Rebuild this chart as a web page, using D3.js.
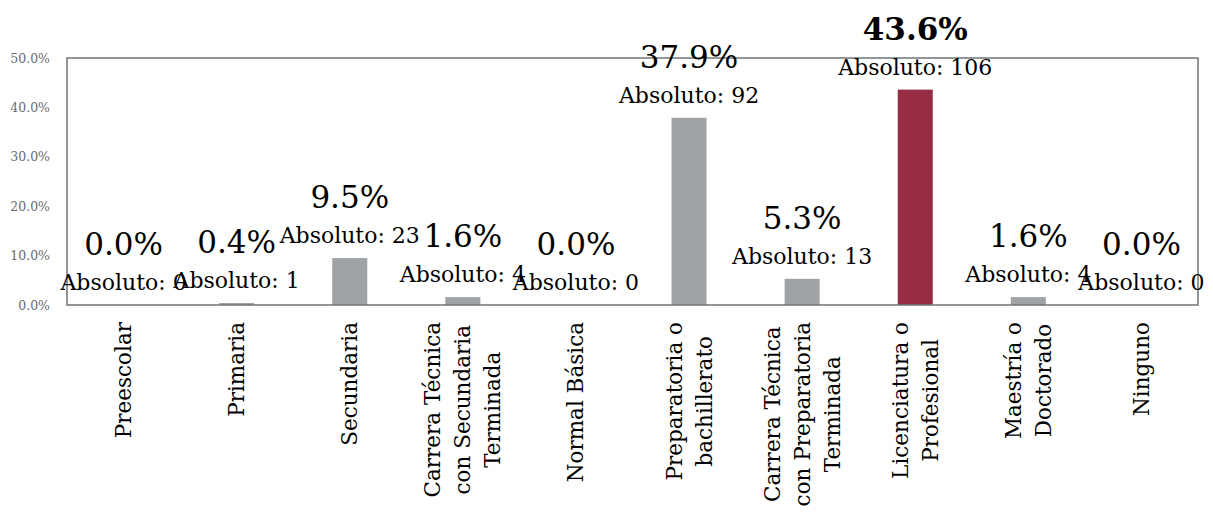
<!DOCTYPE html>
<html>
<head>
<meta charset="utf-8">
<script src="https://cdn.jsdelivr.net/npm/d3@7"></script>
<style>
  body { margin: 0; background: #fff; }
  svg { display: block; }
</style>
</head>
<body>
<svg id="chart" width="1213" height="512"></svg>
<script>
// data
const categories = [
    ["Preescolar"],
    ["Primaria"],
    ["Secundaria"],
    ["Carrera Técnica", "con Secundaria", "Terminada"],
    ["Normal Básica"],
    ["Preparatoria o", "bachillerato"],
    ["Carrera Técnica", "con Preparatoria", "Terminada"],
    ["Licenciatura o", "Profesional"],
    ["Maestría o", "Doctorado"],
    ["Ninguno"]
];
const percents = [0.0, 0.4, 9.5, 1.6, 0.0, 37.9, 5.3, 43.6, 1.6, 0.0];
const absolutes = [0, 1, 23, 4, 0, 92, 13, 106, 4, 0];
const yTicks = [0, 10, 20, 30, 40, 50];
const highlight = 7;

const margin = { top: 58, left: 67, right: 15, bottom: 207 };
const width = 1213, height = 512;
const font = "'DejaVu Serif', serif";

const svg = d3.select("#chart");

var x = d3.scaleBand()
    .domain(d3.range(categories.length))
    .range([margin.left, width - margin.right])
    .paddingInner(0.69)
    .paddingOuter(0.345);

var y = d3.scaleLinear()
    .domain([0, 50])
    .range([height - margin.bottom, margin.top]);

// y axis labels (no axis line, no gridlines)
svg.append("g")
    .attr("transform", `translate(${margin.left - 14},0)`)
    .call(d3.axisLeft(y).tickValues(yTicks).tickSize(0).tickFormat(d => d3.format(".1f")(d) + "%"))
    .call(g => g.select(".domain").remove())
    .call(g => g.selectAll("text")
        .attr("font-family", font)
        .attr("font-size", 12.5)
        .attr("fill", "#6b6b6b"));

// bars
svg.append("g")
    .selectAll("rect")
    .data(percents)
    .join("rect")
    .attr("x", (d, i) => x(i))
    .attr("y", d => y(d))
    .attr("width", x.bandwidth())
    .attr("height", d => y(0) - y(d))
    .attr("fill", (d, i) => i === highlight ? "#962d45" : "#a0a3a6");

// plot area frame
svg.append("rect")
    .attr("x", margin.left)
    .attr("y", margin.top)
    .attr("width", width - margin.left - margin.right)
    .attr("height", y(0) - margin.top)
    .attr("fill", "none")
    .attr("stroke", "#6f757b")
    .attr("stroke-width", 1.5);

// data labels
const labels = svg.append("g")
    .selectAll("g")
    .data(percents)
    .join("g")
    .attr("transform", (d, i) => `translate(${x(i) + x.bandwidth() / 2},${y(d) - 15})`)
    .attr("font-family", font)
    .attr("text-anchor", "middle")
    .attr("fill", "#000");

labels.append("text")
    .attr("font-size", 22)
    .text((d, i) => "Absoluto: " + absolutes[i]);

labels.append("text")
    .attr("y", -35)
    .attr("font-size", 31)
    .attr("font-weight", (d, i) => i === highlight ? "bold" : null)
    .text(d => d3.format(".1f")(d) + "%");

// rotated category labels, block top-aligned under the axis
const catG = svg.append("g")
    .selectAll("g")
    .data(categories)
    .join("g")
    .attr("transform", (d, i) => `translate(${x(i) + x.bandwidth() / 2},${y(0) + 17}) rotate(-90)`)
    .attr("font-family", font)
    .attr("font-size", 21.5)
    .attr("fill", "#000");

catG.each(function(lines) {
    const g = d3.select(this);
    const texts = g.selectAll("text")
        .data(lines)
        .join("text")
        .attr("text-anchor", "middle")
        .attr("dominant-baseline", "central")
        .attr("y", (d, j) => (j - (lines.length - 1) / 2) * 30)
        .text(d => d);
    let maxLen = 0;
    texts.each(function() { maxLen = Math.max(maxLen, this.getComputedTextLength()); });
    texts.attr("x", -maxLen / 2);
});
</script>
</body>
</html>
